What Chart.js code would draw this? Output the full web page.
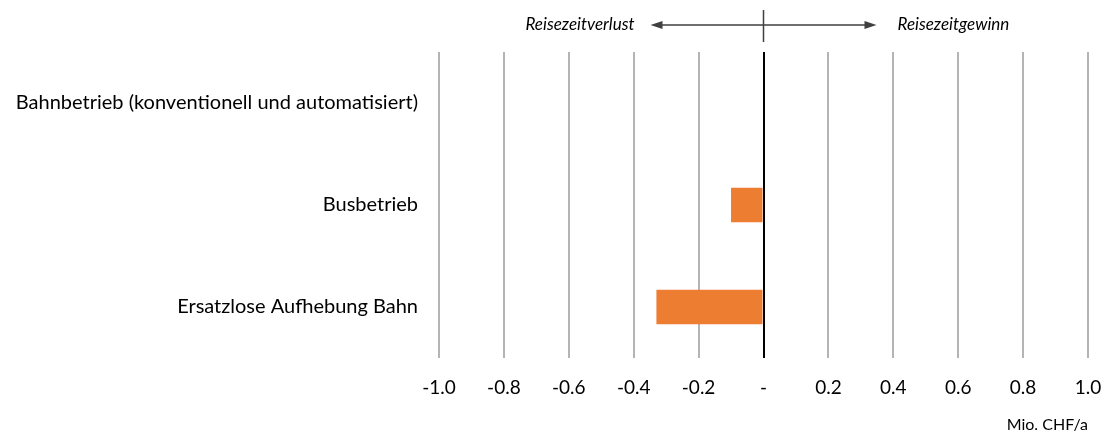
<!DOCTYPE html>
<html>
<head>
<meta charset="utf-8">
<script src="https://cdn.jsdelivr.net/npm/chart.js@4"></script>
<style>
  body { margin: 0; background: #fff; }
  #wrap { width: 1107px; height: 434px; position: relative; }
</style>
</head>
<body>
<div id="wrap"><canvas id="myChart"></canvas></div>
<script>
const categories = [
  "Bahnbetrieb (konventionell und automatisiert)",
  "Busbetrieb",
  "Ersatzlose Aufhebung Bahn"
];
const values = [0, -0.10, -0.33];
const axisMin = -1.0;
const axisMax = 1.0;
const axisStep = 0.2;
const unitLabel = "Mio. CHF/a";
const lossLabel = "Reisezeitverlust";
const gainLabel = "Reisezeitgewinn";

const FONT = "Lato, 'Open Sans', sans-serif";

// arrows + labels above the plot
const topNote = {
  id: "topNote",
  afterDraw(chart) {
    const ctx = chart.ctx;
    const x0 = chart.scales.x.getPixelForValue(0);
    const y = 25;
    ctx.save();
    ctx.strokeStyle = "#404040";
    ctx.fillStyle = "#404040";
    ctx.lineWidth = 1.5;
    ctx.beginPath();
    ctx.moveTo(x0, 10);
    ctx.lineTo(x0, 42);
    ctx.moveTo(x0 - 104, y);
    ctx.lineTo(x0 + 104, y);
    ctx.stroke();
    // heads
    ctx.beginPath();
    ctx.moveTo(x0 - 113, y);
    ctx.lineTo(x0 - 101, y - 4);
    ctx.lineTo(x0 - 101, y + 4);
    ctx.closePath();
    ctx.fill();
    ctx.beginPath();
    ctx.moveTo(x0 + 113, y);
    ctx.lineTo(x0 + 101, y - 4);
    ctx.lineTo(x0 + 101, y + 4);
    ctx.closePath();
    ctx.fill();
    ctx.fillStyle = "#000";
    ctx.font = "italic 17px " + FONT;
    ctx.textBaseline = "middle";
    ctx.textAlign = "right";
    ctx.fillText(lossLabel, x0 - 129, y);
    ctx.textAlign = "left";
    ctx.fillText(gainLabel, x0 + 134, y);
    ctx.restore();
  }
};

const data = {
  labels: categories,
  datasets: [{
    data: values,
    backgroundColor: "#ED7D31",
    barPercentage: 0.34,
    categoryPercentage: 1.0
  }]
};

const config = {
  type: "bar",
  data,
  plugins: [topNote],
  options: {
    indexAxis: "y",
    responsive: true,
    maintainAspectRatio: false,
    animation: false,
    layout: { padding: { top: 52, right: 19, left: 0, bottom: 0 } },
    plugins: {
      legend: { display: false },
      tooltip: { enabled: false }
    },
    scales: {
      x: {
        min: axisMin,
        max: axisMax,
        afterFit(scale) {
          scale.height = 76;
          scale.paddingLeft = 0;
          scale.paddingRight = 0;
        },
        ticks: {
          stepSize: axisStep,
          color: "#000",
          font: { family: FONT, size: 19 },
          padding: 18,
          maxRotation: 0,
          callback: (v) => Math.abs(v) < 1e-9 ? "-" : Number(v).toFixed(1)
        },
        grid: {
          drawTicks: false,
          lineWidth: 2,
          color: (c) => (c.tick && Math.abs(c.tick.value) < 1e-9) ? "#000" : "#b4b4b4"
        },
        border: { display: false },
        title: {
          display: true,
          text: unitLabel,
          align: "end",
          color: "#000",
          font: { family: FONT, size: 16 },
          padding: { top: 0, bottom: 0 }
        }
      },
      y: {
        afterFit(scale) {
          scale.width = 439;
          scale.paddingTop = 0;
          scale.paddingBottom = 0;
        },
        ticks: {
          color: "#000",
          font: { family: FONT, size: 20 },
          padding: 21
        },
        grid: { display: false, drawTicks: false },
        border: { display: false }
      }
    }
  }
};

new Chart(document.getElementById("myChart"), config);
</script>
</body>
</html>
